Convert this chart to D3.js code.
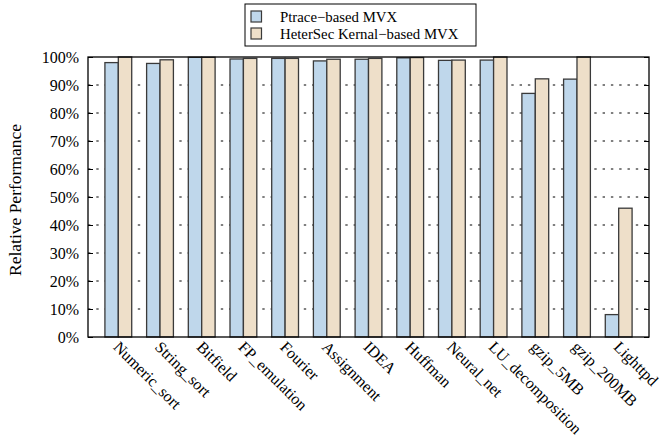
<!DOCTYPE html>
<html>
<head>
<meta charset="utf-8">
<script src="https://cdn.jsdelivr.net/npm/d3@7"></script>
<style>
  body { margin: 0; background: #fff; }
  svg { display: block; }
  text { font-family: "Liberation Serif", "Times New Roman", serif; fill: #000; }
</style>
</head>
<body>
<svg id="chart" width="663" height="442"></svg>
<script>
// Benchmarks (x categories)
const categories = ["Numeric_sort", "String_sort", "Bitfield", "FP_emulation", "Fourier",
  "Assignment", "IDEA", "Huffman", "Neural_net", "LU_decomposition",
  "gzip_5MB", "gzip_200MB", "Lighttpd"];

// Relative performance (%) per system
const seriesNames = ["Ptrace\u2212based MVX", "HeterSec Kernal\u2212based MVX"];
const ptraceValues = [98.0, 97.7, 99.9, 99.3, 99.5, 98.6, 99.2, 99.7, 98.8, 98.9, 87.0, 92.1, 8.0];
const hetersecValues = [100, 99.0, 99.9, 99.5, 99.5, 99.2, 99.5, 99.8, 98.9, 100, 92.2, 100, 46.0];

const yTicks = [0, 10, 20, 30, 40, 50, 60, 70, 80, 90, 100];
const seriesColors = ["#bfd7eb", "#eedfc9"];

const svg = d3.select("#chart");
const plot = { left: 88, right: 649, top: 57, bottom: 337 };

// Group index -> pixel, leaving some padding before the first and after the last group
const x = d3.scaleLinear().domain([-0.727, categories.length - 1 + 0.727]).range([plot.left, plot.right]);
const y = d3.scaleLinear().domain([0, 100]).range([plot.bottom, plot.top]);
const barW = 13.4;

// Dotted horizontal grid
svg.append("g").selectAll("line").data(yTicks.filter(t => t > 0 && t < 100)).join("line")
  .attr("x1", plot.left).attr("x2", plot.right)
  .attr("y1", d => y(d)).attr("y2", d => y(d))
  .attr("stroke", "#000").attr("stroke-width", 1)
  .attr("stroke-dasharray", "2.4,5.9");

// Bars
const series = [ptraceValues, hetersecValues];
series.forEach((vals, s) => {
  svg.append("g").selectAll("rect").data(vals).join("rect")
    .attr("x", (d, i) => x(i) - barW + s * barW)
    .attr("y", d => y(d))
    .attr("width", barW)
    .attr("height", d => y(0) - y(d))
    .attr("fill", seriesColors[s])
    .attr("stroke", "#3a3a3a")
    .attr("stroke-width", 1.3);
});

// Frame
svg.append("rect")
  .attr("x", plot.left).attr("y", plot.top)
  .attr("width", plot.right - plot.left).attr("height", plot.bottom - plot.top)
  .attr("fill", "none").attr("stroke", "#000").attr("stroke-width", 1.3);

// Y axis with inward ticks, mirrored on the right
const yAxis = d3.axisLeft(y).tickValues(yTicks).tickFormat(d => d + "%").tickSizeInner(-5).tickSizeOuter(0).tickPadding(9);
const gy = svg.append("g").attr("transform", `translate(${plot.left},0)`).call(yAxis);
gy.select(".domain").remove();
gy.selectAll("line").attr("stroke", "#000");
gy.selectAll("text").style("font-size", "16px").style("font-family", "'Liberation Serif', serif");

const yAxisR = d3.axisRight(y).tickValues(yTicks).tickFormat("").tickSizeInner(-5).tickSizeOuter(0);
const gyr = svg.append("g").attr("transform", `translate(${plot.right},0)`).call(yAxisR);
gyr.select(".domain").remove();
gyr.selectAll("line").attr("stroke", "#000");

// Rotated category labels
svg.append("g").selectAll("text").data(categories).join("text")
  .attr("transform", (d, i) => `translate(${x(i) - 2},${plot.bottom + 7}) rotate(45)`)
  .attr("text-anchor", "start")
  .attr("dominant-baseline", "central")
  .style("font-size", "16px")
  .text(d => d);

// Y axis title
svg.append("text")
  .attr("transform", `translate(15,${(plot.top + plot.bottom) / 2 + 3}) rotate(-90)`)
  .attr("text-anchor", "middle")
  .attr("dominant-baseline", "central")
  .style("font-size", "17.5px")
  .text("Relative Performance");

// Legend
const legend = svg.append("g");
legend.append("rect").attr("x", 245).attr("y", 4).attr("width", 231).attr("height", 42)
  .attr("fill", "#fff").attr("stroke", "#000").attr("stroke-width", 1);
seriesNames.forEach((name, s) => {
  legend.append("rect").attr("x", 251).attr("y", 11 + s * 17).attr("width", 10.5).attr("height", 11)
    .attr("fill", seriesColors[s]).attr("stroke", "#3a3a3a").attr("stroke-width", 1.2);
  legend.append("text").attr("x", 280).attr("y", 17 + s * 17)
    .attr("dominant-baseline", "central").style("font-size", "14.8px").text(name);
});
</script>
</body>
</html>
